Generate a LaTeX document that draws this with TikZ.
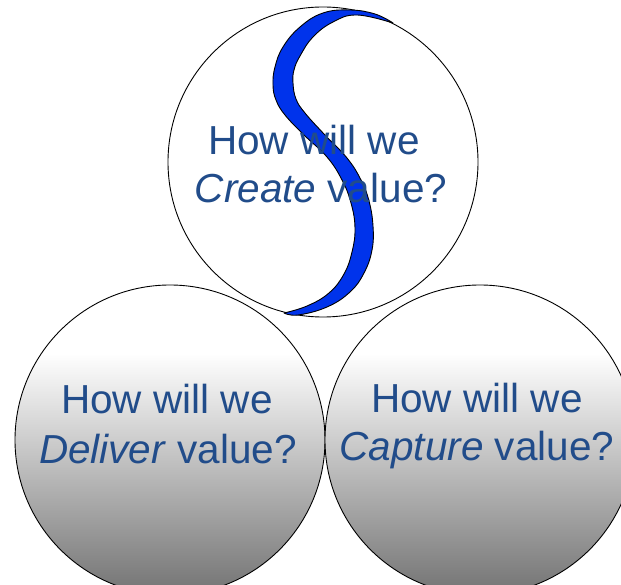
\documentclass[tikz,border=0pt]{standalone}
\usepackage{fontspec}
\setmainfont{Liberation Sans}
\pgfdeclareverticalshading{ballshade}{100bp}{color(0bp)=(black!55); color(25bp)=(black!55); color(64bp)=(white); color(100bp)=(white)}
\definecolor{txtblue}{RGB}{33,76,138}
\definecolor{sblue}{RGB}{0,51,235}
\begin{document}
\begin{tikzpicture}[x=1pt,y=-1pt,
  ball/.style={circle,draw=black,line width=0.9pt,minimum size=310pt,inner sep=0pt},
  qtext/.style={text=txtblue,font=\fontsize{40.5}{48}\selectfont,anchor=base,inner sep=0pt},
  swave/.style={fill=sblue,draw=black,line width=0.9pt,line join=round}]
\useasboundingbox (0,0) rectangle (621,585);
\node[ball,shading=ballshade] (deliver) at (170,440) {};
\node[ball,shading=ballshade] (capture) at (480,440) {};
\node[ball,fill=white] (create) at (323,162) {};
\path[swave] plot[smooth,tension=0.7] coordinates {(393,23) (375,14) (350,10) (323,13) (300,27) (283,47) (275,67) (273,85) (276,100) (285,115) (304,135) (327,157) (342,180) (351,203) (355,228) (352,252) (344,274) (329,293) (307,306) (284,313)}
  -- plot[smooth,tension=0.7] coordinates {(284,313) (298,315) (327,307) (350,292) (364,273) (372,250) (373,226) (369,201) (361,180) (347,158) (324,134) (305,113) (296,99) (293,83) (294,70) (300,56) (313,37) (333,22) (357,15) (393,23)} -- cycle;
\node[qtext] (c1) at (314,155) {How will we};
\node[qtext] (c2) at (321,203) {\textit{Create} value?};
\node[qtext] (d1) at (167,413) {How will we};
\node[qtext] (d2) at (168,463) {\textit{Deliver} value?};
\node[qtext] (p1) at (477,412) {How will we};
\node[qtext] (p2) at (477,460) {\textit{Capture} value?};
\end{tikzpicture}
\end{document}
